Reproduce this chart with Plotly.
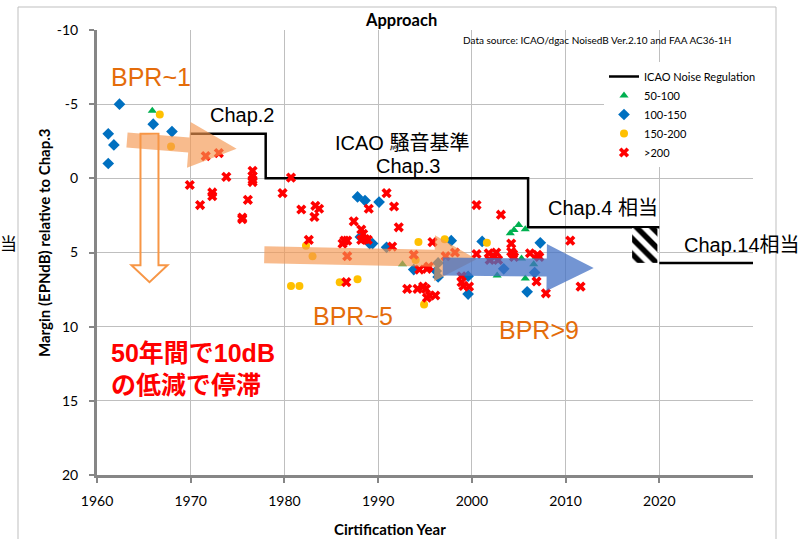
import math
import plotly.graph_objects as go

# ---------------- data ----------------
REG_X = [1970, 1978, 1978, 2006, 2006, 2020, None, 2020, 2030]
REG_Y = [-3.0, -3.0, 0.0, 0.0, 3.3, 3.3, None, 5.7, 5.7]

HATCH_X = [2017.1, 2019.8]
HATCH_Y = [3.35, 5.7]

G_X = [1965.9, 1992.6, 2004.1, 2004.5, 2005.0, 2005.7, 2002.6, 2005.3, 2006.6, 2006.9, 2002.7, 2005.7]
G_Y = [-4.55, 5.8, 3.7, 3.48, 3.14, 3.43, 5.1, 5.4, 5.8, 5.3, 6.55, 6.75]

B_X = [1961.2, 1961.8, 1961.2, 1962.4, 1966.0, 1968.0, 1987.8, 1988.6, 1990.1, 1988.1, 1989.1,
       1989.4, 1990.9, 1997.8, 2001.1, 1993.8, 1996.4, 1996.2, 1996.4, 1999.6, 1999.6, 2003.4,
       2006.7, 2005.9, 2007.3]
B_Y = [-3.0, -2.25, -1.0, -5.0, -3.65, -3.15, 1.25, 1.5, 1.6, 3.95, 4.4,
       4.4, 4.65, 4.2, 4.25, 6.15, 5.7, 6.25, 6.65, 6.6, 7.8, 6.1,
       6.35, 7.65, 4.35]

O_X = [1966.7, 1967.9, 1982.3, 1983.0, 1980.7, 1981.6, 1985.9, 1987.8, 1994.3, 1997.1, 2001.6, 1994.0, 1994.9]
O_Y = [-4.3, -2.15, 4.55, 5.25, 7.25, 7.25, 7.0, 6.8, 4.3, 4.1, 4.35, 5.5, 8.5]

R_X = [1971.6, 1973.0, 1969.9, 1973.8, 1976.6, 1976.6, 1976.6, 1976.6, 1972.3, 1972.3, 1971.0,
       1976.1, 1975.5, 1975.5, 1979.8, 1980.7, 1981.8, 1983.3, 1983.7, 1983.2, 1982.6, 1986.6,
       1986.4, 1986.7, 1986.2, 1986.7, 1987.4, 1988.2, 1988.4, 1988.2, 1988.6, 1988.9, 1989.0,
       1990.9, 1991.7, 1992.2, 1991.5, 1995.8, 1993.8, 1994.4, 1995.2, 1995.4, 1998.2, 1997.2,
       1993.1, 1994.2, 1994.8, 1995.1, 1995.5, 1996.1, 1995.2, 1998.9, 1999.1, 1999.7, 1998.9,
       2000.5, 2003.1, 2004.2, 2004.2, 2010.5, 2000.5, 2001.8, 2002.6, 2002.4, 2004.4, 2004.5,
       2006.2, 2007.0, 2007.2, 2006.9, 2007.9, 2011.6, 2001.9, 2002.8]
R_Y = [-1.5, -1.7, 0.45, -0.1, -0.5, -0.15, 0.1, 0.25, 0.95, 1.2, 1.8,
       1.45, 2.65, 2.75, 1.0, -0.05, 2.1, 1.85, 2.05, 2.6, 4.15, 7.0,
       4.2, 4.2, 4.4, 5.25, 2.9, 3.45, 3.75, 4.15, 4.1, 4.15, 2.05,
       1.0, 1.9, 3.3, 4.6, 4.3, 5.15, 6.15, 6.1, 5.95, 5.0, 5.25,
       7.45, 7.45, 7.3, 7.45, 7.9, 7.9, 8.05, 6.6, 7.25, 7.3, 7.0,
       1.8, 2.45, 4.4, 4.95, 4.2, 5.1, 5.05, 5.0, 5.3, 5.1, 5.3,
       5.05, 5.15, 5.3, 6.95, 7.75, 7.3, 5.5, 5.5]

X_TICKS = [1960, 1970, 1980, 1990, 2000, 2010, 2020]
X_TICKTEXT = ["1960", "1970", "1980", "1990", "2000", "2010", "2020"]
Y_TICKS = [-10, -5, 0, 5, 10, 15, 20]
Y_TICKTEXT = ["-10", "-5", "0", "5", "10", "15", "20"]
X_RANGE = [1960, 2030]
Y_RANGE = [20, -10]

# arrows: (x0, y0, x1, y1) in data units
ARROW_BPR1 = (1963.2, -2.58, 1974.9, -2.0)
ARROW_BPR5 = (1977.85, 5.15, 2000.5, 5.45)
ARROW_BPR9 = (1996.9, 5.95, 2013.0, 6.05)
ARROW_DOWN = (1965.6, -3.0, 1965.6, 7.0)

# ---------------- layout constants ----------------
W, H = 806, 539
ML, MR, MT, MB = 97, 53, 30, 64
PW, PH = W - ML - MR, H - MT - MB
SX = PW / (X_RANGE[1] - X_RANGE[0])
SY = PH / (Y_RANGE[0] - Y_RANGE[1])

LATIN = "Liberation Sans, Arial, Noto Sans CJK JP"
UI = "Lato, Open Sans, sans-serif"


def arrow_path(a, body, head, head_len):
    x0, y0, x1, y1 = a
    X0, Y0 = (x0 - X_RANGE[0]) * SX, (y0 - Y_RANGE[1]) * SY
    X1, Y1 = (x1 - X_RANGE[0]) * SX, (y1 - Y_RANGE[1]) * SY
    L = math.hypot(X1 - X0, Y1 - Y0)
    ux, uy = (X1 - X0) / L, (Y1 - Y0) / L
    nx, ny = -uy, ux
    bx, by = X1 - ux * head_len, Y1 - uy * head_len
    pts = [
        (X0 + nx * body / 2, Y0 + ny * body / 2),
        (bx + nx * body / 2, by + ny * body / 2),
        (bx + nx * head / 2, by + ny * head / 2),
        (X1, Y1),
        (bx - nx * head / 2, by - ny * head / 2),
        (bx - nx * body / 2, by - ny * body / 2),
        (X0 - nx * body / 2, Y0 - ny * body / 2),
    ]
    d = []
    for i, (px, py) in enumerate(pts):
        x = X_RANGE[0] + px / SX
        y = Y_RANGE[1] + py / SY
        d.append(("M" if i == 0 else "L") + f"{x:.4f},{y:.4f}")
    return " ".join(d) + " Z"


def px2paper(px, py):
    return (px - ML) / PW, (H - MB - py) / PH


fig = go.Figure()

fig.add_trace(go.Scatter(
    x=REG_X, y=REG_Y, mode="lines", name="ICAO Noise Regulation",
    line=dict(color="black", width=2.5), connectgaps=False, legendrank=1))

fig.add_trace(go.Scatter(
    x=[HATCH_X[0], HATCH_X[1], HATCH_X[1], HATCH_X[0], HATCH_X[0]],
    y=[HATCH_Y[0], HATCH_Y[0], HATCH_Y[1], HATCH_Y[1], HATCH_Y[0]],
    mode="lines", fill="toself", fillcolor="white", line=dict(width=0, color="rgba(0,0,0,0)"),
    fillpattern=dict(shape="\\", fgcolor="black", bgcolor="white", fgopacity=1,
                     fillmode="replace", size=11, solidity=0.5),
    showlegend=False, hoverinfo="skip"))

fig.add_trace(go.Scatter(x=G_X, y=G_Y, mode="markers", name="50-100", legendrank=2,
                         marker=dict(symbol="triangle-up", size=8, color="#00B050")))
fig.add_trace(go.Scatter(x=B_X, y=B_Y, mode="markers", name="100-150", legendrank=3,
                         marker=dict(symbol="diamond", size=9, color="#0070C0")))
fig.add_trace(go.Scatter(x=O_X, y=O_Y, mode="markers", name="150-200", legendrank=4,
                         marker=dict(symbol="circle", size=8, color="#FFC000")))
fig.add_trace(go.Scatter(x=R_X, y=R_Y, mode="markers", name=">200", legendrank=5,
                         marker=dict(symbol="x", size=9, color="#FF0000")))

shapes = [
    dict(type="path", xref="x", yref="y", layer="above",
         path=arrow_path(ARROW_BPR1, 15, 46, 48),
         fillcolor="rgba(244,150,80,0.65)", line=dict(width=0)),
    dict(type="path", xref="x", yref="y", layer="above",
         path=arrow_path(ARROW_BPR5, 17, 46, 42),
         fillcolor="rgba(244,150,80,0.65)", line=dict(width=0)),
    dict(type="path", xref="x", yref="y", layer="above",
         path=arrow_path(ARROW_BPR9, 18, 47, 47),
         fillcolor="rgba(68,114,196,0.75)", line=dict(width=0)),
    dict(type="path", xref="x", yref="y", layer="above",
         path=arrow_path(ARROW_DOWN, 18, 36, 17),
         fillcolor="rgba(0,0,0,0)", line=dict(width=2, color="#F79646")),
]
fx0, fy0 = px2paper(18, 560)
fx1, fy1 = px2paper(776, 7)
shapes.append(dict(type="rect", xref="paper", yref="paper", x0=fx0, y0=fy0, x1=fx1, y1=fy1,
                   line=dict(color="#BFBFBF", width=1), fillcolor="rgba(0,0,0,0)", layer="below"))

ORANGE = "#E46C0A"
ann = []


def data_text(text, x, y, size, color="black", anchor="left", font=LATIN, bold=False):
    ann.append(dict(text=f"<b>{text}</b>" if bold else text, x=x, y=y, xref="x", yref="y",
                    xanchor=anchor, yanchor="middle", showarrow=False,
                    font=dict(family=font, size=size, color=color)))


data_text("BPR~1", 1961.3, -6.8, 25, ORANGE)
data_text("Chap.2", 1971.8, -4.3, 20)
data_text("ICAO 騒音基準", 1992.5, -2.4, 20, anchor="center")
data_text("Chap.3", 1993.2, -0.85, 20, anchor="center")
data_text("Chap.4 相当", 2007.9, 2.0, 20)
data_text("Chap.14相当", 2022.4, 4.5, 20)
data_text("BPR~5", 1982.8, 9.3, 25, ORANGE)
data_text("BPR>9", 2002.7, 10.25, 25, ORANGE)
data_text("50年間で10dB", 1961.3, 11.8, 25, "#FF0000", bold=True)
data_text("の低減で停滞", 1961.3, 13.95, 25, "#FF0000", bold=True)


def paper_text(text, px, py, size, bold=False, angle=0, font=UI, anchor="center"):
    x, y = px2paper(px, py)
    ann.append(dict(text=f"<b>{text}</b>" if bold else text, x=x, y=y, xref="paper", yref="paper",
                    xanchor=anchor, yanchor="middle", showarrow=False, textangle=angle,
                    font=dict(family=font, size=size, color="black")))


paper_text("Approach", 401, 20, 16.5, bold=True)
paper_text("Data source: ICAO/dgac NoisedB Ver.2.10 and FAA AC36-1H", 597, 40, 10)
paper_text("Margin (EPNdB) relative to Chap.3", 44, 243, 15, bold=True, angle=-90)
paper_text("Cirtification Year", 390, 529, 15, bold=True)
paper_text("当", 8, 245, 17, font=LATIN)

lx, ly = px2paper(604, 62)

fig.update_layout(
    width=W, height=H, margin=dict(l=ML, r=MR, t=MT, b=MB),
    paper_bgcolor="white", plot_bgcolor="white",
    showlegend=True,
    legend=dict(x=lx, y=ly, xanchor="left", yanchor="top", bgcolor="white",
                font=dict(family=UI, size=11, color="black"), tracegroupgap=0),
    shapes=shapes, annotations=ann,
    xaxis=dict(range=X_RANGE, tickvals=X_TICKS, ticktext=X_TICKTEXT, showgrid=True,
               gridcolor="#BFBFBF", gridwidth=1,
               showline=True, linecolor="#868686", linewidth=3, zeroline=False,
               ticks="outside", ticklen=5, tickwidth=2, tickcolor="#868686",
               tickfont=dict(family=UI, size=14, color="black"), ticklabelstandoff=6),
    yaxis=dict(range=Y_RANGE, tickvals=Y_TICKS, ticktext=Y_TICKTEXT, showgrid=True,
               gridcolor="#BFBFBF", gridwidth=1,
               showline=True, linecolor="#868686", linewidth=3, zeroline=False,
               ticks="outside", ticklen=5, tickwidth=2, tickcolor="#868686",
               tickfont=dict(family=UI, size=14, color="black"), ticklabelstandoff=8),
)

fig.write_html("out.html", config={"displayModeBar": False},
               post_script="document.body.style.margin='0';")
